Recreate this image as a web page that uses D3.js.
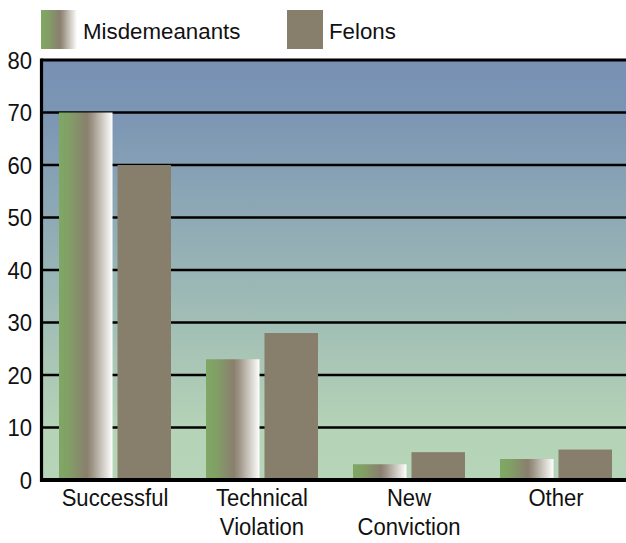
<!DOCTYPE html>
<html>
<head>
<meta charset="utf-8">
<script src="https://cdn.jsdelivr.net/npm/d3@7"></script>
<style>
  html, body { margin: 0; padding: 0; background: #ffffff; }
  svg { display: block; }
  text { font-family: "Liberation Sans", Arial, sans-serif; fill: #111; }
</style>
</head>
<body>
<svg id="chart" width="626" height="543"></svg>
<script>
// Outcome categories and the share (%) of each group
const categories = ["Successful", "Technical Violation", "New Conviction", "Other"];
const seriesNames = ["Misdemeanants", "Felons"];
const misdemeanants = [70, 23, 3, 4];
const felons = [60, 28, 5.3, 5.8];
const yTicks = [0, 10, 20, 30, 40, 50, 60, 70, 80];

const W = 626, H = 543;
const plot = { left: 41.5, right: 629.5, top: 60, bottom: 480 };
const svg = d3.select("#chart");
const defs = svg.append("defs");

// Backdrop: blue at the top fading to pale green near the baseline
const bg = defs.append("linearGradient").attr("id", "bgGrad")
  .attr("x1", 0).attr("y1", 0).attr("x2", 0).attr("y2", 1);
bg.append("stop").attr("offset", "0%").attr("stop-color", "#7891b4");
bg.append("stop").attr("offset", "12%").attr("stop-color", "#7b95b4");
bg.append("stop").attr("offset", "88%").attr("stop-color", "#b5d3b6");
bg.append("stop").attr("offset", "100%").attr("stop-color", "#b6d4b7");

// Misdemeanant bars: green → taupe → white across the bar
const mg = defs.append("linearGradient").attr("id", "misGrad")
  .attr("x1", 0).attr("y1", 0).attr("x2", 1).attr("y2", 0);
mg.append("stop").attr("offset", "0%").attr("stop-color", "#7fa864");
mg.append("stop").attr("offset", "18%").attr("stop-color", "#81a065");
mg.append("stop").attr("offset", "52%").attr("stop-color", "#8a7f6f");
mg.append("stop").attr("offset", "62%").attr("stop-color", "#9d9485");
mg.append("stop").attr("offset", "100%").attr("stop-color", "#ffffff");

const felonColor = "#877e6c";
const fills = { "Misdemeanants": "url(#misGrad)", "Felons": felonColor };

const x = d3.scaleBand().domain(categories).range([plot.left, plot.right]).padding(0);
const xInner = d3.scaleBand().domain(seriesNames)
  .range([17.5, x.bandwidth() - 17.5]).paddingInner(0.085);
const y = d3.scaleLinear().domain([0, 80]).range([plot.bottom, plot.top]);

// Plot background
svg.append("rect")
  .attr("x", plot.left).attr("y", y(80))
  .attr("width", W - plot.left).attr("height", y(0) - y(80))
  .attr("fill", "url(#bgGrad)");

// Horizontal grid lines
svg.append("g").selectAll("line").data(yTicks.filter(d => d > 0)).join("line")
  .attr("x1", plot.left).attr("x2", W)
  .attr("y1", d => y(d)).attr("y2", d => y(d))
  .attr("stroke", "#000").attr("stroke-width", d => d === 80 ? 3 : 2.6);

// Bars
const rows = categories.map((c, i) => ({ cat: c, values: [
  { s: "Misdemeanants", v: misdemeanants[i] },
  { s: "Felons", v: felons[i] }
]}));
const groups = svg.append("g").selectAll("g").data(rows).join("g")
  .attr("transform", d => `translate(${x(d.cat)},0)`);
groups.selectAll("rect").data(d => d.values).join("rect")
  .attr("x", d => xInner(d.s))
  .attr("width", xInner.bandwidth())
  .attr("y", d => y(d.v))
  .attr("height", d => y(0) - y(d.v))
  .attr("fill", d => fills[d.s]);

// Axis lines
svg.append("line").attr("x1", plot.left).attr("x2", plot.left)
  .attr("y1", y(80) - 1.5).attr("y2", y(0) + 2)
  .attr("stroke", "#000").attr("stroke-width", 3.2);
svg.append("line").attr("x1", plot.left - 1.5).attr("x2", W)
  .attr("y1", y(0)).attr("y2", y(0))
  .attr("stroke", "#000").attr("stroke-width", 4);

// Y tick labels
const sx = 0.92;
svg.append("g").selectAll("text").data(yTicks).join("text")
  .attr("transform", d => `translate(32,${y(d) + 8.5}) scale(${sx},1)`)
  .attr("text-anchor", "end")
  .attr("font-size", 24)
  .text(d => d);

// Category labels, wrapped on spaces
const catLabels = svg.append("g").selectAll("text").data(categories).join("text")
  .attr("transform", d => `translate(${x(d) + x.bandwidth() / 2},506) scale(${sx},1)`)
  .attr("text-anchor", "middle")
  .attr("font-size", 24);
catLabels.selectAll("tspan").data(d => d.split(" ")).join("tspan")
  .attr("x", 0).attr("dy", (d, i) => i === 0 ? 0 : 29)
  .text(d => d);

// Legend
const legend = [
  { name: "Misdemeanants", fill: "url(#misGrad)", x: 41 },
  { name: "Felons", fill: felonColor, x: 287 }
];
const lg = svg.append("g").selectAll("g").data(legend).join("g")
  .attr("transform", d => `translate(${d.x},10)`);
lg.append("rect").attr("width", 36).attr("height", 39).attr("fill", d => d.fill);
lg.append("text")
  .attr("transform", `translate(42,29) scale(0.97,1)`)
  .attr("font-size", 23)
  .text(d => d.name);
</script>
</body>
</html>
